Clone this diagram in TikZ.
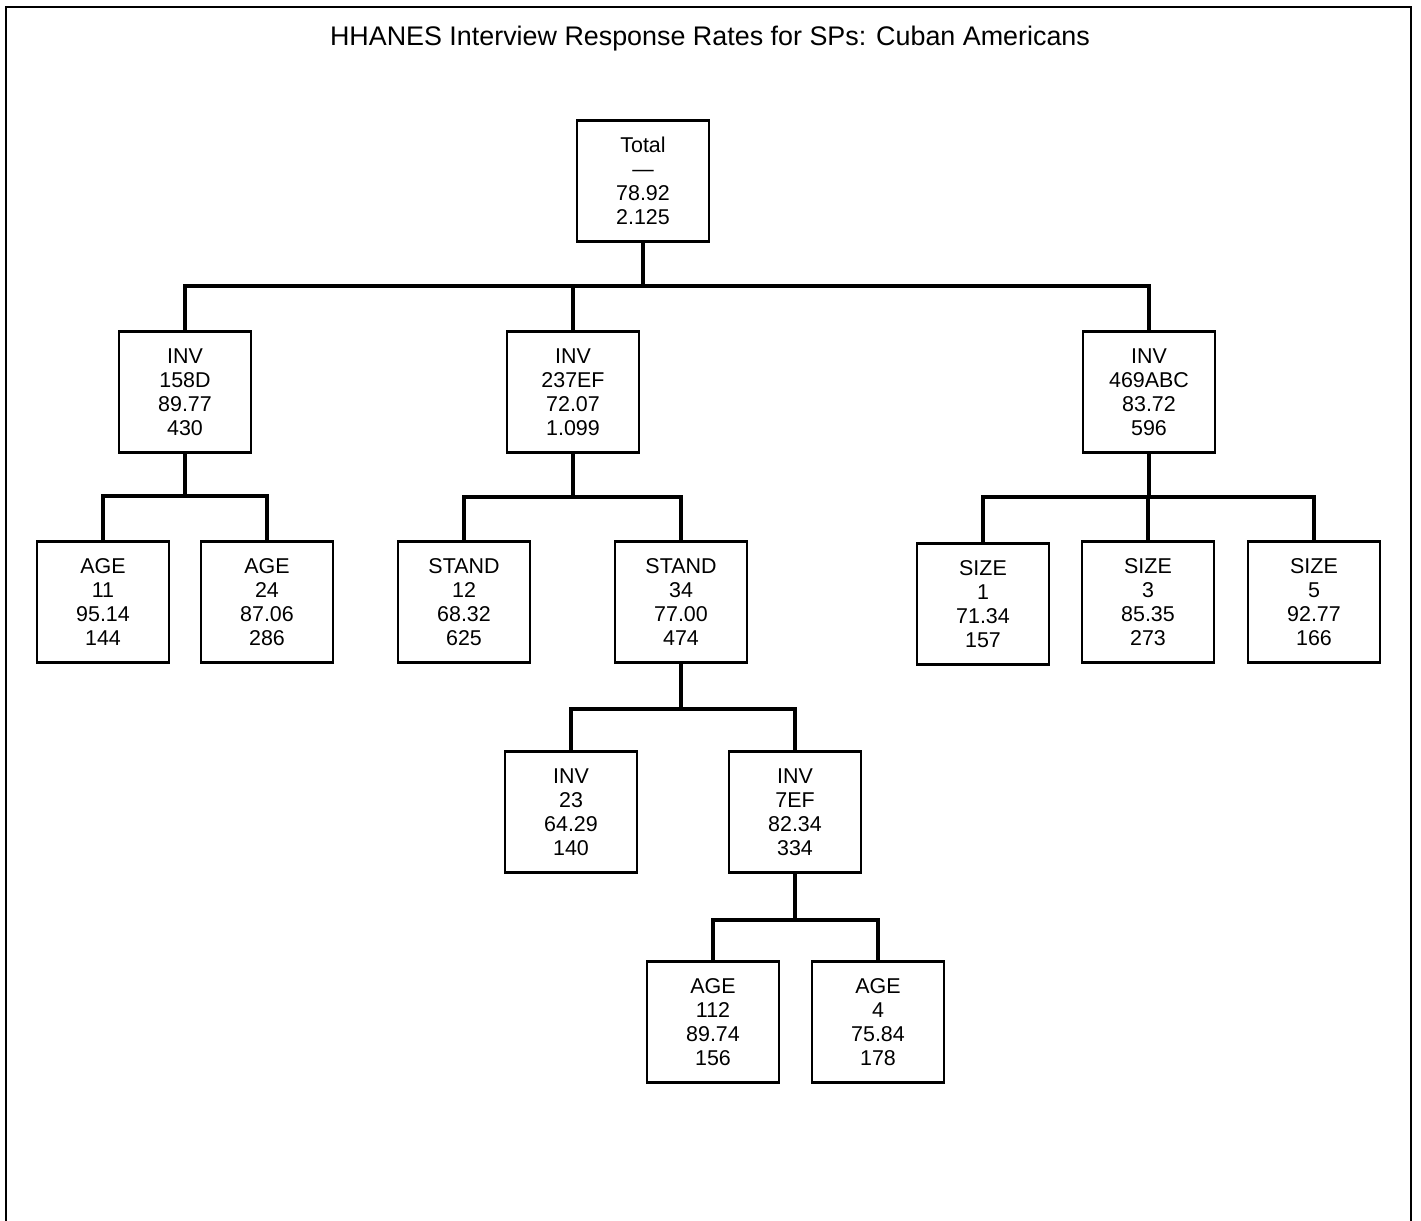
\documentclass[tikz,border=0pt]{standalone}
\usepackage{fontspec}
\setmainfont{Liberation Sans}
\usepackage{tikz}
\usetikzlibrary{positioning}

\begin{document}
\begin{tikzpicture}[x=0.02cm, y=-0.02cm,
    box/.style={draw, line width=1.2pt, minimum width=2.64cm, minimum height=2.42cm,
                align=center, inner sep=0pt, font=\fontsize{12.2}{13.7}\selectfont},
    conn/.style={line width=2pt},
    frame/.style={line width=1.3pt}]
                % Page and frame
                \useasboundingbox (0,0) rectangle (1421,1221);
                \draw[frame] (6,1221) -- (6,7) -- (1411,7) -- (1411,1221);
                \node[font=\fontsize{15.3}{18}\selectfont] (title) at (710,39) {HHANES Interview Response Rates for SPs: Cuban Americans};
                
                % Root
                \node[box] (tot) at (643,181) {Total\\---\\78.92\\2.125};
                
                % First split
                \node[box] (inv1) at (185,392) {INV\\158D\\89.77\\430};
                \node[box] (inv2) at (573,392) {INV\\237EF\\72.07\\1.099};
                \node[box] (inv3) at (1149,392) {INV\\469ABC\\83.72\\596};
                
                % Second split
                \node[box] (age1) at (103,602) {AGE\\11\\95.14\\144};
                \node[box] (age2) at (267,602) {AGE\\24\\87.06\\286};
                \node[box] (std1) at (464,602) {STAND\\12\\68.32\\625};
                \node[box] (std2) at (681,602) {STAND\\34\\77.00\\474};
                \node[box] (siz1) at (983,604) {SIZE\\1\\71.34\\157};
                \node[box] (siz2) at (1148,602) {SIZE\\3\\85.35\\273};
                \node[box] (siz3) at (1314,602) {SIZE\\5\\92.77\\166};
                
                % Third split
                \node[box] (inv4) at (571,812) {INV\\23\\64.29\\140};
                \node[box] (inv5) at (795,812) {INV\\7EF\\82.34\\334};
                
                % Fourth split
                \node[box] (age3) at (713,1022) {AGE\\112\\89.74\\156};
                \node[box] (age4) at (878,1022) {AGE\\4\\75.84\\178};
                
                % Branch points
                \coordinate (b0) at (643,286);
                \coordinate (b1) at (185,496);
                \coordinate (b2) at (573,497);
                \coordinate (b3) at (1149,497);
                \coordinate (b4) at (681,709);
                \coordinate (b5) at (795,920);
                
                % Connectors
                \draw[conn] (tot.south) -- (b0);
                \draw[conn] (inv1.north) |- (b0) -| (inv3.north);
                \draw[conn] (inv2.north) -- (inv2.north |- b0);
                
                \draw[conn] (inv1.south) -- (b1);
                \draw[conn] (age1.north) |- (b1) -| (age2.north);
                
                \draw[conn] (inv2.south) -- (b2);
                \draw[conn] (std1.north) |- (b2) -| (std2.north);
                
                \draw[conn] (inv3.south) -- (b3);
                \draw[conn] (siz1.north) |- (b3) -| (siz3.north);
                \draw[conn] (siz2.north) -- (siz2.north |- b3);
                
                \draw[conn] (std2.south) -- (b4);
                \draw[conn] (inv4.north) |- (b4) -| (inv5.north);
                
                \draw[conn] (inv5.south) -- (b5);
                \draw[conn] (age3.north) |- (b5) -| (age4.north);
\end{tikzpicture}
\end{document}
